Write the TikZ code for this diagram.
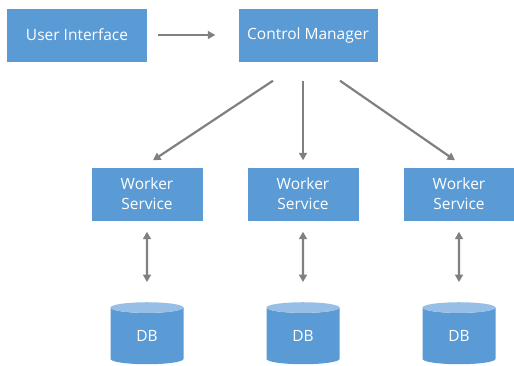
\documentclass[tikz,border=0pt]{standalone}
\usepackage{fontspec}
\setmainfont{Open Sans}
\definecolor{BoxBlue}{RGB}{91,155,213}
\definecolor{TopBlue}{RGB}{150,190,230}
\definecolor{ArrowGray}{RGB}{128,128,128}
\usetikzlibrary{arrows.meta, shapes.geometric, positioning}

\begin{document}
\begin{tikzpicture}[x=1pt, y=-1pt, font=\fontsize{15.5}{20}\selectfont,
	box/.style={fill=BoxBlue, text=white, minimum height=53pt, align=center, inner sep=0pt},
	db/.style={cylinder, shape border rotate=90, aspect=0.5, draw=none,
		cylinder uses custom fill, cylinder body fill=BoxBlue, cylinder end fill=TopBlue,
		minimum width=73pt, minimum height=62pt, text=white, inner sep=0pt},
	arr/.style={draw=ArrowGray, line width=2.2pt, -{Triangle[length=7.5pt,width=8pt]}},
	arrs/.style={draw=ArrowGray, line width=2.2pt,
		{Triangle[length=7.5pt,width=8pt]}-{Triangle[length=7.5pt,width=8pt]}}]
	\useasboundingbox (0,0) rectangle (514,365);
	\node[box, minimum width=140pt] (ui) at (77,35) {User Interface};
	\node[box, minimum width=139pt] (cm) at (308,35) {Control Manager};
	\draw[arr, shorten <=11pt, shorten >=23pt] (ui) -- (cm);
	\foreach \x/\sx/\ex [count=\i] in {147/-35/6, 303/-5/0, 459/32/-4}{
		\node[box, minimum width=111pt] (w\i) at (\x,194) {Worker\\Service};
		\node[db] (db\i) at (\x,336) {DB};
		\draw[arr] ([xshift=\sx pt, yshift=-19pt]cm.south) -- ([xshift=\ex pt, yshift=7pt]w\i.north);
		\draw[arrs, shorten <=11pt, shorten >=20pt] (w\i) -- (db\i);
	}
\end{tikzpicture}
\end{document}
